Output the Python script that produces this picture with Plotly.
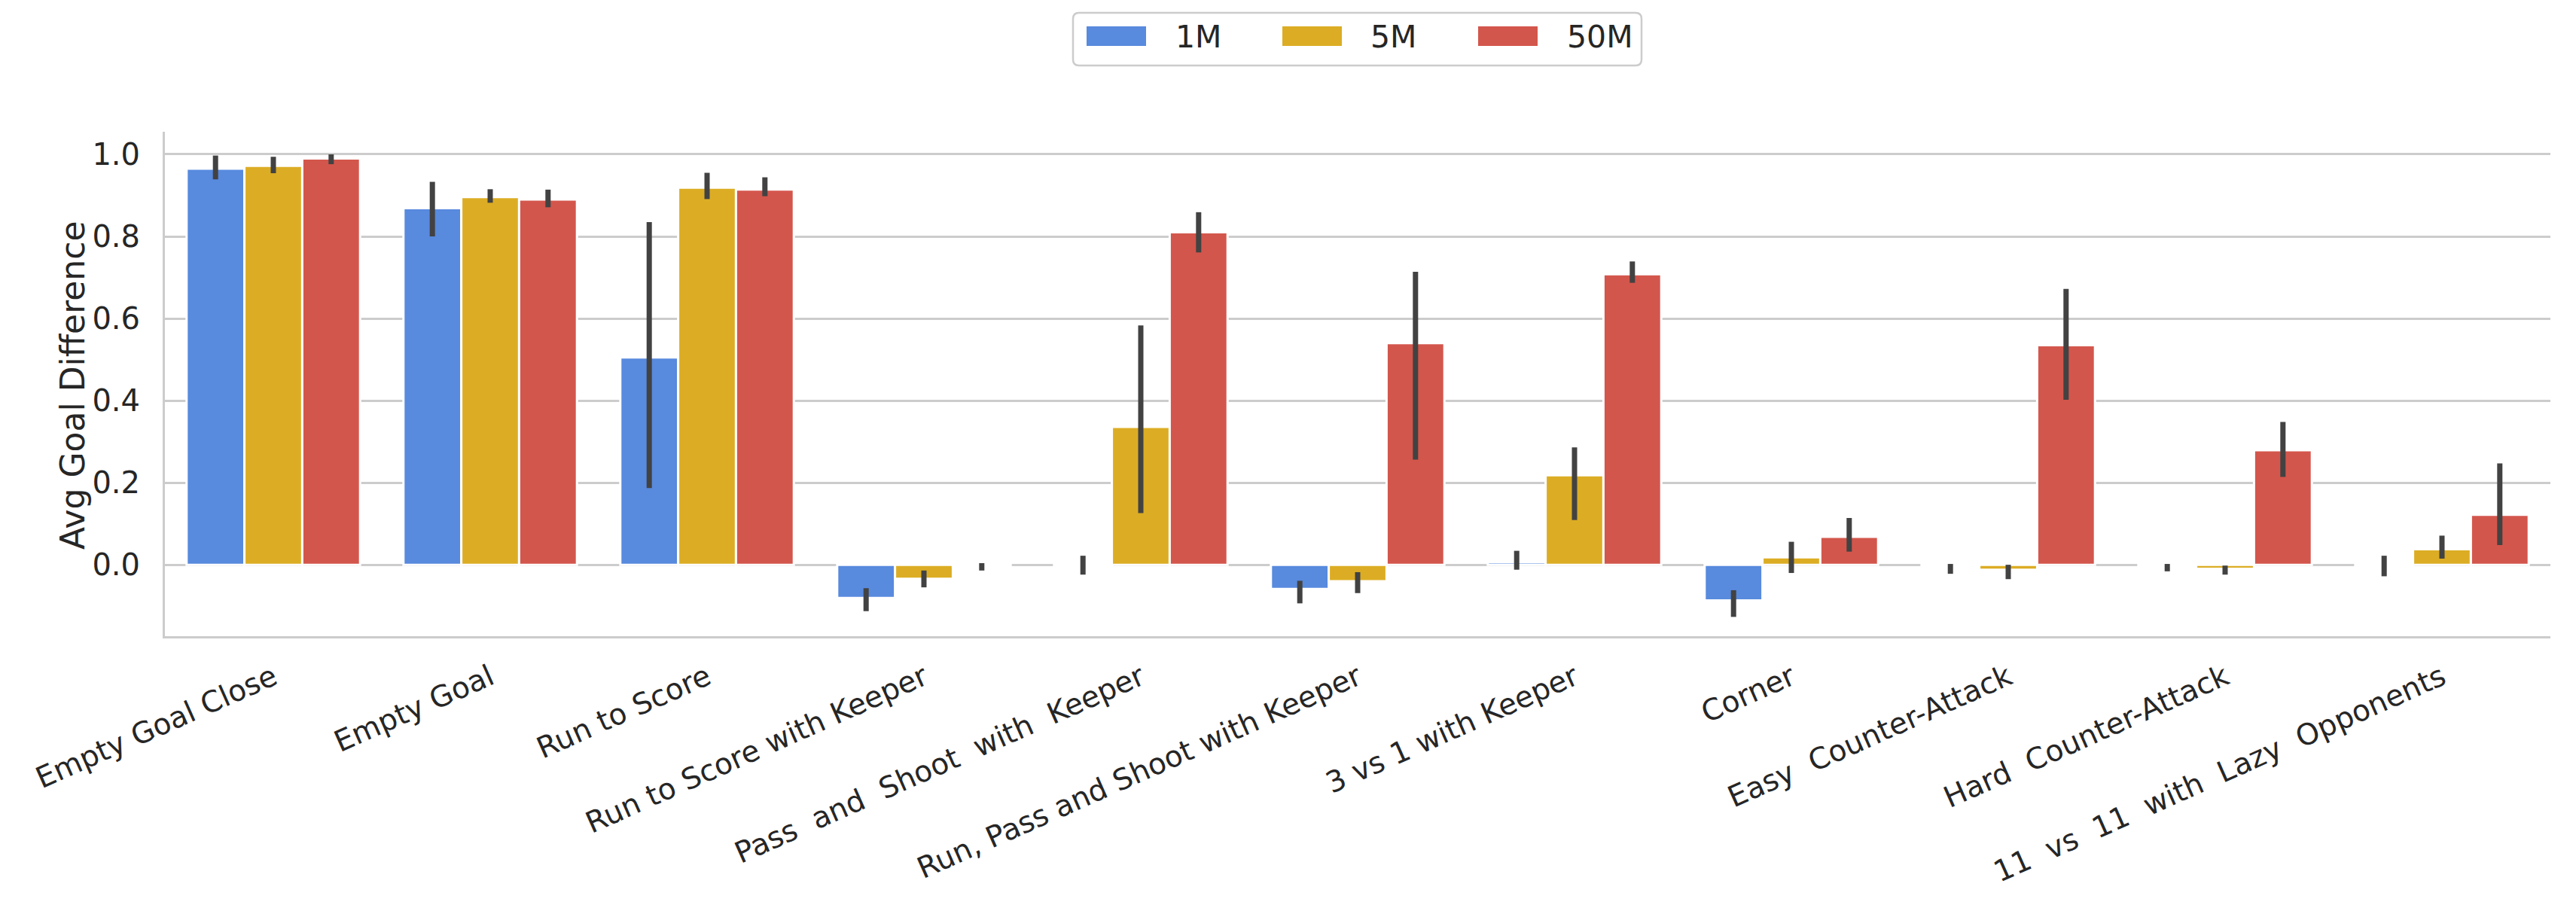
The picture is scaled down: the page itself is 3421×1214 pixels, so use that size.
import plotly.graph_objects as go

# ---------------- data ----------------
tasks = [
    "Empty Goal Close",
    "Empty Goal",
    "Run to Score",
    "Run to Score with Keeper",
    "Pass\u00a0 and\u00a0 Shoot\u00a0 with\u00a0 Keeper",
    "Run, Pass and Shoot with Keeper",
    "3 vs 1 with Keeper",
    "Corner",
    "Easy\u00a0 Counter-Attack",
    "Hard\u00a0 Counter-Attack",
    "11\u00a0 vs\u00a0 11\u00a0 with\u00a0 Lazy\u00a0 Opponents",
]
series_names = ["1M", "5M", "50M"]

mean_1m = [0.965, 0.869, 0.505, -0.081, -0.001, -0.059, 0.006, -0.087, -0.005, -0.001, -0.003]
low_1m  = [0.939, 0.800, 0.187, -0.113, -0.024, -0.094, -0.012, -0.127, -0.022, -0.016, -0.028]
high_1m = [0.997, 0.933, 0.835, -0.057, 0.022, -0.039, 0.034, -0.062, 0.002, 0.002, 0.022]

mean_5m = [0.972, 0.896, 0.919, -0.034, 0.336, -0.040, 0.218, 0.018, -0.012, -0.010, 0.038]
low_5m  = [0.954, 0.882, 0.891, -0.055, 0.126, -0.069, 0.109, -0.020, -0.035, -0.024, 0.015]
high_5m = [0.994, 0.915, 0.955, -0.014, 0.583, -0.018, 0.286, 0.056, 0.000, -0.002, 0.071]

mean_50m = [0.990, 0.890, 0.914, -0.004, 0.810, 0.540, 0.708, 0.068, 0.535, 0.279, 0.122]
low_50m  = [0.976, 0.871, 0.898, -0.014, 0.761, 0.256, 0.687, 0.032, 0.402, 0.214, 0.048]
high_50m = [1.000, 0.914, 0.944, 0.004, 0.859, 0.714, 0.739, 0.114, 0.672, 0.348, 0.247]

y_ticks = [0.0, 0.2, 0.4, 0.6, 0.8, 1.0]
y_title = "Avg Goal Difference"

# ---------------- style ----------------
colors = ["#588ade", "#dcad24", "#d3564c"]
err_color = "#424242"
text_color = "#262626"
grid_color = "#cccccc"
FONT = "DejaVu Sans"

W, H = 3421, 1214
L, R, T, B = 219, 34, 175, 369
PW, PH = W - L - R, H - T - B

def px_to_paper(px, py):
    return (px - L) / PW, (H - B - py) / PH

fig = go.Figure()
all_means = [mean_1m, mean_5m, mean_50m]
all_lows = [low_1m, low_5m, low_50m]
all_highs = [high_1m, high_5m, high_50m]
for name, col, m, lo, hi in zip(series_names, colors, all_means, all_lows, all_highs):
    fig.add_trace(go.Bar(
        name=name,
        x=tasks,
        y=m,
        marker=dict(color=col, line=dict(color="white", width=3)),
        error_y=dict(
            type="data", symmetric=False,
            array=[h - v for h, v in zip(hi, m)],
            arrayminus=[v - l for v, l in zip(m, lo)],
            color=err_color, thickness=7, width=0,
        ),
        showlegend=False,
    ))

# ---------------- manual legend ----------------
shapes = []
annotations = []

def rounded_rect(x0, y0, x1, y1, r):
    def p(x, y):
        a, b = px_to_paper(x, y)
        return f"{a:.6f},{b:.6f}"
    return (f"M{p(x0 + r, y0)} L{p(x1 - r, y0)} Q{p(x1, y0)} {p(x1, y0 + r)} "
            f"L{p(x1, y1 - r)} Q{p(x1, y1)} {p(x1 - r, y1)} L{p(x0 + r, y1)} "
            f"Q{p(x0, y1)} {p(x0, y1 - r)} L{p(x0, y0 + r)} Q{p(x0, y0)} {p(x0 + r, y0)} Z")

shapes.append(dict(type="path", xref="paper", yref="paper",
                   path=rounded_rect(1425, 17, 2180, 87, 8),
                   line=dict(color=grid_color, width=2.5), fillcolor="white", layer="above"))
sw_x = [1443, 1703, 1963]
tx_x = [1559, 1818, 2079]
for name, col, sx, tx in zip(series_names, colors, sw_x, tx_x):
    x0, y0 = px_to_paper(sx, 35)
    x1, y1 = px_to_paper(sx + 79, 61)
    shapes.append(dict(type="rect", xref="paper", yref="paper", x0=x0, x1=x1, y0=y1, y1=y0,
                       line=dict(width=0), fillcolor=col, layer="above"))
    ax, ay = px_to_paper(tx, 49)
    annotations.append(dict(xref="paper", yref="paper", x=ax, y=ay, xanchor="left", yanchor="middle",
                            text=name, showarrow=False,
                            font=dict(family=FONT, size=41, color=text_color)))

# y-axis title placed as a rotated annotation
tx, ty = px_to_paper(97, 512)
annotations.append(dict(xref="paper", yref="paper", x=tx, y=ty, xanchor="center", yanchor="middle",
                        text=y_title, textangle=-90, showarrow=False,
                        font=dict(family=FONT, size=44, color=text_color)))

fig.update_layout(
    width=W, height=H,
    margin=dict(l=L, r=R, t=T, b=B),
    paper_bgcolor="white", plot_bgcolor="white",
    barmode="group", bargap=0.2, bargroupgap=0.0,
    font=dict(family=FONT, size=40, color=text_color),
    shapes=shapes, annotations=annotations,
    xaxis=dict(
        type="category", range=[-0.5, 10.5], automargin=False,
        tickangle=-24, tickfont=dict(family=FONT, size=39, color=text_color),
        showgrid=False, showline=True, linecolor=grid_color, linewidth=3, mirror=False,
        ticks="outside", ticklen=14, tickcolor="rgba(0,0,0,0)", zeroline=False,
    ),
    yaxis=dict(
        range=[-0.174, 1.055], automargin=False,
        tickvals=y_ticks, ticktext=[f"{v:.1f}" for v in y_ticks],
        tickfont=dict(family=FONT, size=40, color=text_color),
        showgrid=True, gridcolor=grid_color, gridwidth=2.5,
        showline=True, linecolor=grid_color, linewidth=3, mirror=False,
        ticks="outside", ticklen=22, tickcolor="rgba(0,0,0,0)", zeroline=False,
    ),
)

fig.write_html("out.html")
